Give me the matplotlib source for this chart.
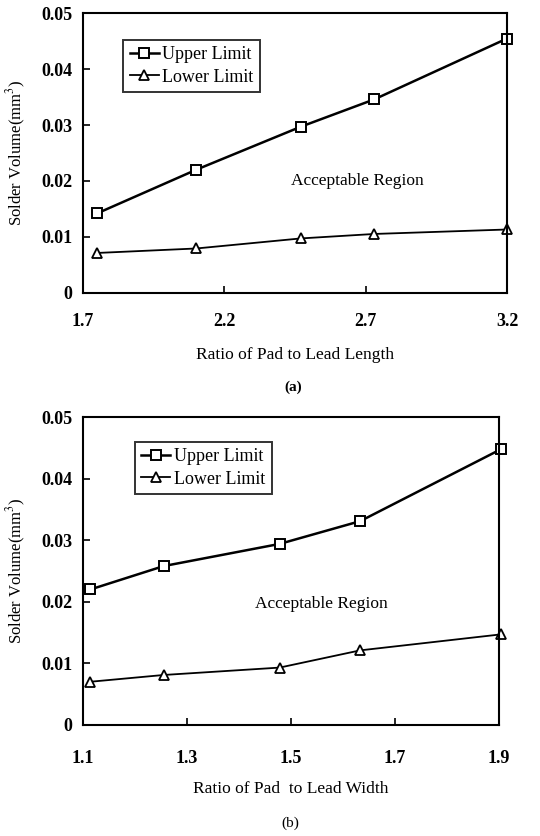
import matplotlib
matplotlib.use('Agg')
import matplotlib.pyplot as plt

plt.rcParams['font.family'] = ['Liberation Serif', 'DejaVu Serif']
plt.rcParams['mathtext.fontset'] = 'stix'

# (a) 焊盘/引脚长度比
len_ratio = [1.75, 2.10, 2.47, 2.73, 3.20]
len_upper = [0.0142, 0.0220, 0.0297, 0.0346, 0.0455]
len_lower = [0.0071, 0.0079, 0.0097, 0.0105, 0.0113]

# (b) 焊盘/引脚宽度比
wid_ratio = [1.114, 1.255, 1.478, 1.633, 1.904]
wid_upper = [0.0220, 0.0258, 0.0294, 0.0331, 0.0448]
wid_lower = [0.0070, 0.0081, 0.0093, 0.0121, 0.0147]

len_ticks = [1.7, 2.2, 2.7, 3.2]
wid_ticks = [1.1, 1.3, 1.5, 1.7, 1.9]
y_ticks = [0, 0.01, 0.02, 0.03, 0.04, 0.05]


def draw_panel(ax, x, up, lo, xticks, xlim, legend_pos, text_pos, xpad):
    ax.plot(x, up, color='black', linewidth=1.8, marker='s', markersize=7,
            markerfacecolor='white', markeredgecolor='black', markeredgewidth=1.4,
            label='Upper Limit', clip_on=False)
    ax.plot(x, lo, color='black', linewidth=1.3, marker='^', markersize=7,
            markerfacecolor='white', markeredgecolor='black', markeredgewidth=1.3,
            label='Lower Limit', clip_on=False)
    ax.set_xlim(*xlim)
    ax.set_ylim(0, 0.05)
    ax.set_xticks(xticks)
    ax.set_xticklabels([f'{t:.1f}' for t in xticks])
    ax.set_yticks(y_ticks)
    ax.set_yticklabels(['0', '0.01', '0.02', '0.03', '0.04', '0.05'])
    ax.tick_params(axis='x', direction='in', length=5, width=1.2, pad=xpad,
                   labelsize=13, top=False)
    ax.tick_params(axis='y', direction='in', length=5, width=1.2, pad=8,
                   labelsize=13, right=False)
    for lbl in ax.get_xticklabels() + ax.get_yticklabels():
        lbl.set_fontweight('bold')
    for s in ax.spines.values():
        s.set_linewidth(1.5)
    leg = ax.legend(loc='upper left', bbox_to_anchor=legend_pos, fontsize=13,
                    frameon=True, fancybox=False, edgecolor='black',
                    handlelength=1.6, handletextpad=0.2, borderpad=0.35,
                    labelspacing=0.3, borderaxespad=0)
    leg.get_frame().set_linewidth(1.4)
    ax.text(text_pos[0], text_pos[1], 'Acceptable Region', fontsize=12.5,
            ha='center', va='center')
    ax.set_ylabel('Solder Volume(mm$^3$)', fontsize=12)


fig = plt.figure(figsize=(5.4, 8.36), dpi=100)

ax1 = fig.add_axes([0.154, 0.650, 0.785, 0.334])
draw_panel(ax1, len_ratio, len_upper, len_lower, len_ticks, (1.7, 3.2),
           (0.095, 0.905), (2.67, 0.020), 15)
ax1.set_xlabel('Ratio of Pad to Lead Length', fontsize=12.5, labelpad=12)
ax1.yaxis.set_label_coords(-0.13, 0.5)
fig.text(0.543, 1 - 387 / 836, '(a)', fontsize=11, fontweight='bold',
         ha='center', va='center')

ax2 = fig.add_axes([0.154, 0.133, 0.770, 0.368])
draw_panel(ax2, wid_ratio, wid_upper, wid_lower, wid_ticks, (1.1, 1.9),
           (0.125, 0.92), (1.558, 0.0197), 18)
ax2.set_xlabel('Ratio of Pad  to Lead Width', fontsize=12.5, labelpad=10)
ax2.yaxis.set_label_coords(-0.132, 0.5)
fig.text(0.537, 1 - 823 / 836, '(b)', fontsize=11, ha='center', va='center')

fig.savefig('out.png', dpi=100)
